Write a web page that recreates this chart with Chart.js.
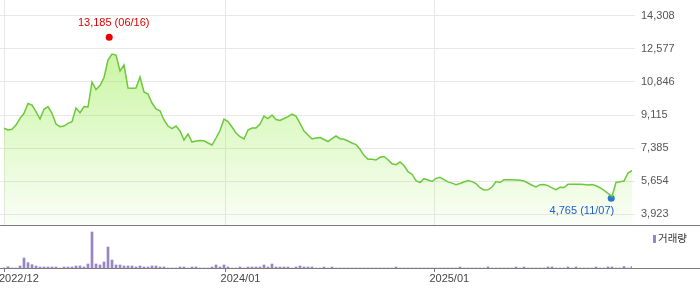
<!DOCTYPE html>
<html lang="ko">
<head>
<meta charset="utf-8">
<title>주가 차트</title>
<script src="https://cdn.jsdelivr.net/npm/chart.js@4.4.1/dist/chart.umd.min.js"></script>
<style>
  body { margin: 0; background: #fff; }
  #wrap { position: relative; width: 700px; height: 289px; overflow: hidden; }
  #priceBox { position: absolute; left: 0; top: 0; width: 700px; height: 225px; }
  #volBox { position: absolute; left: 0; top: 226px; width: 700px; height: 63px; }
  .sep { position: absolute; left: 0; width: 700px; height: 1px; background: #7a7a7a; }
  #legend { position: absolute; left: 653px; top: 230px; font: 10.5px 'Noto Sans CJK KR', sans-serif; color: #333; }
  #legend i { display: inline-block; width: 3px; height: 8px; background: #9a84c8; margin-right: 2px; vertical-align: -1px; }
</style>
</head>
<body>
<div id="wrap">
  <div id="priceBox"><canvas id="priceChart" width="700" height="225"></canvas></div>
  <div class="sep" style="top:225px"></div>
  <div id="volBox"><canvas id="volChart" width="700" height="63"></canvas></div>
  <div class="sep" style="top:268px"></div>
  <div id="legend"><i></i>거래량</div>
</div>
<script>
// Weekly closing prices (week 0 = first week of 2022/12)
const priceValues = [
  8419, 8330, 8367, 8591, 8942, 9203, 9716, 9637, 9287, 8905,
  9413, 9559, 9203, 8644, 8503, 8539, 8680, 8764, 9481, 9235,
  9559, 9533, 10840, 10448, 10657, 11076, 11991, 12305, 12252, 11416,
  11729, 10527, 10511, 10527, 11102, 10317, 10213, 9742, 9428, 9339,
  8853, 8539, 8408, 8539, 8278, 7807, 8121, 7702, 7755, 7781,
  7770, 7650, 7545, 7912, 8304, 8905, 8775, 8487, 8173, 7980,
  7859, 8330, 8435, 8435, 8644, 9062, 8931, 9114, 8879, 8827,
  8931, 9026, 9156, 9062, 8680, 8278, 8068, 7859, 7912, 7938,
  7833, 7729, 7875, 8016, 7875, 7844, 7755, 7650, 7572, 7321,
  7007, 6798, 6798, 6761, 6902, 6944, 6777, 6567, 6515, 6656,
  6473, 6149, 6018, 5678, 5584, 5783, 5715, 5637, 5804, 5856,
  5731, 5616, 5553, 5469, 5532, 5610, 5689, 5631, 5527, 5312,
  5192, 5202, 5349, 5637, 5584, 5731, 5731, 5725, 5720, 5705,
  5663, 5558, 5443, 5359, 5474, 5480, 5422, 5307, 5208, 5333,
  5323, 5490, 5490, 5490, 5490, 5480, 5453, 5474, 5412, 5312,
  5176, 5014, 4852, 5584, 5621, 5663, 6081, 6212
];

// Weekly volume (relative units)
const volumeValues = [
  0, 13, 0, 0, 20, 100, 53, 33, 20, 10,
  10, 10, 10, 10, 0, 10, 10, 10, 20, 20,
  10, 40, 360, 40, 30, 60, 210, 80, 30, 30,
  20, 20, 20, 10, 20, 10, 10, 20, 20, 10,
  10, 0, 0, 0, 10, 10, 0, 10, 10, 0,
  0, 0, 10, 30, 10, 30, 10, 0, 0, 10,
  0, 10, 10, 10, 10, 30, 10, 40, 10, 10,
  10, 10, 0, 10, 20, 10, 10, 10, 0, 0,
  10, 0, 10, 0, 0, 0, 0, 0, 0, 0,
  0, 0, 0, 0, 0, 0, 0, 0, 10, 0,
  0, 0, 0, 0, 0, 0, 0, 0, 0, 0,
  0, 0, 0, 0, 10, 0, 0, 0, 0, 0,
  0, 10, 0, 0, 0, 0, 0, 0, 10, 0,
  10, 0, 0, 0, 0, 0, 10, 10, 0, 0,
  0, 10, 0, 10, 0, 0, 0, 0, 10, 0,
  0, 10, 10, 0, 0, 15, 0, 15
];

// Axis ticks
const xTickPositions = [0, 55.4, 107.6];
const xTickLabels = ['2022/12', '2024/01', '2025/01'];
const yTickValues = [3923, 5654, 7385, 9115, 10846, 12577, 14308];

// High / low markers
const markerWeeks = [26.3, 151.8];
const markerValues = [13185, 4765];
const markerDates = ['06/16', '11/07'];

Chart.defaults.font.family = "'Liberation Sans', Arial, sans-serif";
Chart.defaults.font.size = 11;
Chart.defaults.animation = false;

const toPoints = arr => arr.map((v, i) => ({ x: i, y: v }));
const lastWeek = priceValues.length - 1;

// no label padding around the plot, the plot touches the canvas edges
function noPadding(scale) {
  scale.paddingTop = 0;
  scale.paddingBottom = 0;
  scale.paddingLeft = 0;
  scale.paddingRight = 0;
}

// Draw the text next to the high / low dots
const markerLabels = {
  id: 'markerLabels',
  afterDatasetsDraw(chart) {
    const ctx = chart.ctx;
    chart.data.datasets.forEach((ds, i) => {
      if (!ds.markerText) return;
      const pt = chart.getDatasetMeta(i).data[0];
      ctx.save();
      ctx.font = "11px 'Liberation Sans', Arial, sans-serif";
      ctx.fillStyle = ds.textColor;
      ctx.textAlign = ds.textAlign;
      ctx.textBaseline = 'middle';
      ctx.fillText(ds.markerText, pt.x + ds.textDx, pt.y + ds.textDy);
      ctx.restore();
    });
  }
};

function areaGradient(context) {
  const { ctx, chartArea } = context.chart;
  if (!chartArea) return 'rgba(133,233,44,0.3)';
  const g = ctx.createLinearGradient(0, chartArea.top, 0, chartArea.bottom);
  g.addColorStop(0, 'rgba(133,233,44,0.55)');
  g.addColorStop(1, 'rgba(133,233,44,0.04)');
  return g;
}

const priceChart = new Chart(document.getElementById('priceChart').getContext('2d'), {
  type: 'line',
  data: {
    datasets: [
      {
        data: toPoints(priceValues),
        borderColor: '#6cc83c',
        borderWidth: 1.5,
        backgroundColor: areaGradient,
        fill: 'start',
        pointRadius: 0,
        tension: 0
      },
      {
        data: [{ x: markerWeeks[0], y: markerValues[0] }],
        showLine: false,
        pointRadius: 3.5,
        backgroundColor: '#ee0000',
        borderWidth: 0,
        markerText: `${markerValues[0].toLocaleString('en-US')} (${markerDates[0]})`,
        textColor: '#e00000',
        textAlign: 'center',
        textDx: 4.5,
        textDy: -14.5
      },
      {
        data: [{ x: markerWeeks[1], y: markerValues[1] }],
        showLine: false,
        pointRadius: 3.5,
        backgroundColor: '#1f6be0',
        borderWidth: 0,
        markerText: `${markerValues[1].toLocaleString('en-US')} (${markerDates[1]})`,
        textColor: '#1a5fd0',
        textAlign: 'right',
        textDx: 3,
        textDy: 12.3
      }
    ]
  },
  options: {
    responsive: false,
    layout: { padding: 0, autoPadding: false },
    plugins: { legend: { display: false }, tooltip: { enabled: false } },
    scales: {
      x: {
        type: 'linear',
        min: -1,
        max: lastWeek,
        offset: false,
        afterBuildTicks: scale => { scale.ticks = xTickPositions.map(v => ({ value: v })); },
        afterFit: scale => { scale.height = 0; noPadding(scale); },
        ticks: { display: false },
        grid: { color: '#e8e8e8', drawTicks: false },
        border: { display: false }
      },
      y: {
        position: 'right',
        min: 3363,
        max: 15129,
        afterBuildTicks: scale => { scale.ticks = yTickValues.map(v => ({ value: v })); },
        afterFit: scale => { scale.width = 68; noPadding(scale); },
        ticks: { padding: 6, color: '#555', callback: v => v.toLocaleString('en-US') },
        grid: { color: '#e8e8e8', tickLength: 3 },
        border: { display: false }
      }
    }
  },
  plugins: [markerLabels]
});

const volChart = new Chart(document.getElementById('volChart').getContext('2d'), {
  type: 'bar',
  data: {
    datasets: [{
      data: toPoints(volumeValues),
      backgroundColor: '#9a84c8',
      barThickness: 2
    }]
  },
  options: {
    responsive: false,
    layout: { padding: { right: 68 }, autoPadding: false },
    plugins: { legend: { display: false }, tooltip: { enabled: false } },
    scales: {
      x: {
        type: 'linear',
        min: -1,
        max: lastWeek,
        offset: false,
        afterBuildTicks: scale => { scale.ticks = xTickPositions.map(v => ({ value: v })); },
        afterFit: scale => { scale.height = 21; noPadding(scale); },
        ticks: {
          align: 'start',
          labelOffset: -5,
          padding: 0,
          color: '#444',
          autoSkip: false,
          maxRotation: 0,
          callback: (v, i) => xTickLabels[i]
        },
        grid: { offset: false, drawOnChartArea: false, drawTicks: true, tickLength: 4, color: '#777' },
        border: { display: false }
      },
      y: { display: false, min: 0, max: 420, afterFit: noPadding }
    }
  }
});
</script>
</body>
</html>
